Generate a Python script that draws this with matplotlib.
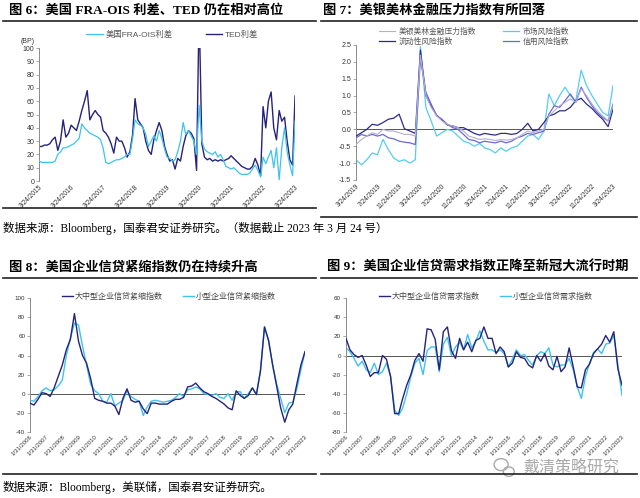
import numpy as np
import pandas as pd
import matplotlib
matplotlib.use('Agg')
import matplotlib.pyplot as plt
from matplotlib.lines import Line2D
from matplotlib.patches import Ellipse

plt.rcParams['font.family'] = ['Liberation Sans', 'Noto Sans CJK SC']

# ---- 图6: FRA-OIS / TED, monthly from 3/2015 to 3/2023 (BP)
ted = [26, 26, 27, 27, 28, 31, 33, 23, 30, 46,
       33, 36, 42, 40, 38, 45, 53, 60, 68, 46, 50, 53,
       50, 48, 38, 36, 33, 28, 21, 33, 30, 30, 25, 18,
       22, 35, 62, 46, 43, 40, 30, 23, 20, 31, 38, 44,
       38, 26, 20, 15, 16, 9, 17, 15, 26, 34, 38, 36,
       32, 8, 130, 28, 18, 16, 17, 15, 16, 15, 16, 15,
       16, 17, 19, 17, 15, 13, 11, 10, 9, 9, 11, 17,
       12, 4, 56, 40, 60, 67, 40, 31, 53, 45, 48, 30,
       16, 12, 64]
fra_ois = [15, 14, 14, 14, 14, 14, 15, 20, 22, 25,
           25, 26, 27, 28, 30, 32, 43, 40, 38, 36, 35, 34,
           33, 31, 25, 14, 13, 14, 15, 16, 16, 17, 18, 20,
           20, 32, 46, 43, 42, 40, 35, 26, 30, 34, 30, 38,
           32, 24, 18, 17, 15, 16, 22, 30, 44, 35, 38, 34,
           30, 20, 57, 30, 24, 22, 21, 20, 22, 18, 20, 16,
           11, 10, 9, 10, 8, 6, 5, 5, 5, 6, 9, 12,
           8, 3, 18, 13, 18, 23, 10, 25, 1, 25, 40, 22,
           12, 4, 45]
p6_ticks = ['3/24/2015', '3/24/2016', '3/24/2017', '3/24/2018', '3/24/2019',
            '3/24/2020', '3/24/2021', '3/24/2022', '3/24/2023']

# ---- 图7: 美银美林金融压力指数, monthly 3/2019 - 3/2023
bofa = [-0.45, -0.3, -0.2, -0.1, -0.15, 0.0, -0.05, -0.05, -0.1, -0.15,
        -0.15, -0.2, 2.2, 1.0, 0.65, 0.4, 0.25, 0.15, 0.1, 0.05,
        -0.05, -0.2, -0.25, -0.3, -0.28, -0.3, -0.33, -0.3, -0.32, -0.3,
        -0.25, -0.15, -0.05, -0.1, -0.05, 0.0, 0.4, 0.55, 0.7, 0.8,
        0.9, 0.8, 1.2, 1.0, 0.75, 0.55, 0.4, 0.25, 0.7]
market = [-0.9, -1.05, -0.9, -0.7, -0.75, -0.3, -0.6, -0.85, -0.95, -0.9,
          -1.0, -0.9, 2.45, 0.65, 0.25, -0.2, -0.1, 0.0, -0.05, -0.2,
          -0.35, -0.4, -0.5, -0.42, -0.55, -0.6, -0.7, -0.55, -0.65, -0.55,
          -0.5, -0.35, -0.2, -0.15, -0.3, -0.05, 1.05, 0.7, 1.0, 1.25,
          1.0, 0.85, 1.75, 1.3, 1.0, 0.75, 0.5, 0.4, 1.3]
liquidity = [-0.2, -0.1, 0.0, 0.15, 0.12, 0.2, 0.3, 0.33, 0.45, 0.02,
             -0.05, -0.12, 2.35, 1.0, 0.7, 0.42, 0.28, 0.13, 0.1, 0.05,
             0.05, -0.03, -0.12, -0.17, -0.12, -0.15, -0.17, -0.12, -0.12, -0.15,
             -0.12, 0.0, 0.18, -0.05, 0.0, 0.2, 0.4, 0.45, 0.55, 0.55,
             0.65, 0.85, 0.92, 0.75, 0.62, 0.45, 0.3, 0.08, 0.6]
credit = [-0.25, -0.15, -0.2, -0.15, -0.2, -0.15, -0.25, -0.28, -0.35, -0.38,
          -0.4, -0.45, 2.1, 1.1, 0.75, 0.4, 0.3, 0.15, 0.05, 0.0,
          -0.15, -0.3, -0.33, -0.4, -0.35, -0.38, -0.4, -0.35, -0.4, -0.35,
          -0.25, -0.2, -0.12, -0.15, -0.1, -0.05, 0.45, 0.7, 0.65, 0.85,
          1.05, 0.8, 1.25, 0.95, 0.7, 0.5, 0.35, 0.25, 0.75]
p7_ticks = ['3/24/2019', '7/24/2019', '11/24/2019', '3/24/2020', '7/24/2020',
            '11/24/2020', '3/24/2021', '7/24/2021', '11/24/2021', '3/24/2022',
            '7/24/2022', '11/24/2022', '3/24/2023']

# ---- 图8 / 图9: quarterly 1/2006 - 1/2023
tight_large = [-10, -12, -6, 1, 0, -3, 6, 18, 30, 46,
               57, 84, 55, 40, 32, 16, -5, -7, -8, -10,
               -10, -13, -22, -5, 5, -7, -9, -8, -16, -21,
               -10, -10, -11, -11, -11, -8, -6, -6, -4, 7,
               8, 11, 6, 2, 0, -3, -5, -8, -11, -15,
               -17, 3, -2, -5, -2, 6, -1, 24, 70, 56,
               30, 8, -15, -30, -17, -11, 10, 30, 44]
tight_small = [-7, -8, -3, 3, 6, 3, 4, 8, 14, 40,
               58, 74, 72, 50, 30, 10, 3, 0, -8, -9,
               0, -13, -10, -7, 3, -3, -6, -8, -23, -14,
               -8, -7, -8, -9, -8, -7, -4, 0, -3, 4,
               5, 7, 5, 0, -1, -2, 0, -4, -5, 0,
               -7, 2, 2, -5, 0, 6, -1, 24, 70, 55,
               30, 10, -5, -20, -10, -9, 5, 25, 44]
demand_large = [18, 6, 1, -2, 0, -10, -22, -18, -18, 0,
                -4, -22, -61, -61, -45, -31, -20, -5, 2, -6,
                28, 27, 17, -15, 25, 30, 5, -3, 18, 6,
                14, 4, 16, 18, 30, 18, 18, 2, 9, 4,
                -12, -8, 4, -2, -3, -10, -13, 0, -6, 2,
                -11, -15, -1, -17, -12, 8, -12, -33, -34, -15,
                -9, 2, 7, 12, 21, 14, 25, -14, -31]
demand_small = [8, 4, -3, -11, -6, -15, -18, -8, -20, -17,
                -8, -22, -57, -63, -55, -40, -22, -8, -3, -20,
                5, 9, 9, -17, 12, 19, 0, 9, 14, 6,
                22, 8, 15, 26, 15, 6, 6, 3, 6, 2,
                -12, -4, 6, 0, 1, -5, -10, 0, 4, 2,
                8, -10, -12, -10, -10, -3, -15, -33, -45, -22,
                -8, 3, 7, 2, 12, 13, 21, -10, -42]
q_ticks = ['1/31/2006', '1/31/2007', '1/31/2008', '1/31/2009', '1/31/2010', '1/31/2011',
           '1/31/2012', '1/31/2013', '1/31/2014', '1/31/2015', '1/31/2016', '1/31/2017',
           '1/31/2018', '1/31/2019', '1/31/2020', '1/31/2021', '1/31/2022', '1/31/2023']

NAVY = '#25237a'
CYAN = '#3ec3f0'
AXC = '#8a8a8a'
TXT = '#333333'

p6_dates = pd.date_range('2015-03-24', periods=len(ted), freq=pd.DateOffset(months=1))
p7_dates = pd.date_range('2019-03-24', periods=len(bofa), freq=pd.DateOffset(months=1))
q_dates = pd.date_range('2006-01-31', periods=len(tight_large), freq=pd.DateOffset(months=3))


def style(ax, ylim, yticks, ylabels, xticks, ysize=5, xsize=4.8, zero=False):
    for s in ['top', 'right', 'bottom']:
        ax.spines[s].set_visible(False)
    ax.spines['left'].set_color(AXC)
    ax.spines['left'].set_linewidth(0.7)
    ax.set_ylim(*ylim)
    ax.set_yticks(yticks)
    ax.set_yticklabels(ylabels, fontsize=ysize, color=TXT)
    ax.tick_params(axis='y', length=2, width=0.5, color=AXC, pad=1.5)
    ax.tick_params(axis='x', length=0, pad=2)
    pos = pd.to_datetime(xticks, format='%m/%d/%Y')
    ax.set_xticks(pos)
    ax.set_xticklabels(xticks, rotation=45, ha='right', rotation_mode='anchor',
                       fontsize=xsize, color=TXT)
    ax.set_xlim(pos[0], pos[-1])
    ax.axhline(0, color='#555555' if zero else AXC, lw=0.7, zorder=1)
    ax.patch.set_alpha(0)


fig = plt.figure(figsize=(6.4, 4.98), dpi=100)

# ---------- 图6
ax6 = fig.add_axes([0.061, 0.6365, 0.4, 0.267])
ax6.plot(p6_dates, fra_ois, color=CYAN, lw=0.9, label='美国FRA-OIS利差', zorder=3)
ax6.plot(p6_dates, ted, color=NAVY, lw=1.0, label='TED利差', zorder=2)
style(ax6, (0, 100), np.arange(0, 101, 10), [str(v) for v in range(0, 101, 10)], p6_ticks)
ax6.legend(ncol=2, loc='center', bbox_to_anchor=(0.52, 1.1), frameon=False, fontsize=6,
           handlelength=2.0, columnspacing=4.0, handletextpad=0.3, labelcolor='#555555')
ax6.text(-0.07, 1.035, '(BP)', transform=ax6.transAxes, fontsize=5, color=TXT, ha='left')

# ---------- 图7
ax7 = fig.add_axes([0.5563, 0.6386, 0.4016, 0.2711])
ax7.plot(p7_dates, bofa, color='#b3aed3', lw=0.8, label='美银美林金融压力指数', zorder=4)
ax7.plot(p7_dates, liquidity, color='#2e2b8e', lw=0.9, label='流动性风险指数', zorder=3)
ax7.plot(p7_dates, market, color='#55cdf2', lw=0.9, label='市场风险指数', zorder=2)
ax7.plot(p7_dates, credit, color='#6b68d2', lw=0.9, label='信用风险指数', zorder=3)
yt7 = np.arange(-1.5, 2.51, 0.5)
style(ax7, (-1.5, 2.5), yt7, ['%.1f' % v for v in yt7], p7_ticks, zero=True)
ax7.legend(ncol=2, loc='center', bbox_to_anchor=(0.46, 1.06), frameon=False, fontsize=5.6,
           handlelength=2.0, columnspacing=3.5, handletextpad=0.5, labelspacing=0.25,
           labelcolor='#555555')

# ---------- 图8
ax8 = fig.add_axes([0.0469, 0.1331, 0.4297, 0.2678])
ax8.plot(q_dates, tight_large, color=NAVY, lw=1.0, label='大中型企业信贷紧缩指数', zorder=3)
ax8.plot(q_dates, tight_small, color=CYAN, lw=1.0, label='小型企业信贷紧缩指数', zorder=2)
style(ax8, (-40, 100), np.arange(-40, 101, 20), [str(v) for v in range(-40, 101, 20)],
      q_ticks, ysize=4.5, xsize=4.3, zero=True)
ax8.legend(ncol=2, loc='center', bbox_to_anchor=(0.505, 1.01), frameon=False, fontsize=5.8,
           handlelength=1.3, columnspacing=2.6, handletextpad=0.2, labelcolor='#444444')

# ---------- 图9
ax9 = fig.add_axes([0.5406, 0.1331, 0.4313, 0.2678])
ax9.plot(q_dates, demand_large, color=NAVY, lw=1.0, label='大中型企业信贷需求指数', zorder=3)
ax9.plot(q_dates, demand_small, color=CYAN, lw=1.0, label='小型企业信贷需求指数', zorder=2)
style(ax9, (-80, 60), np.arange(-80, 61, 20), [str(v) for v in range(-80, 61, 20)],
      q_ticks, ysize=4.5, xsize=4.3, zero=True)
ax9.legend(ncol=2, loc='center', bbox_to_anchor=(0.507, 1.01), frameon=False, fontsize=5.8,
           handlelength=1.3, columnspacing=2.6, handletextpad=0.2, labelcolor='#444444')

# ---------- titles, rules, sources
tfont = dict(family=['Liberation Serif', 'Noto Sans CJK SC'], fontsize=9.5,
             fontweight='bold', color='black', va='center', ha='left')
fig.text(0.014, 0.979, '图 6：美国 FRA-OIS 利差、TED 仍在相对高位', **tfont)
fig.text(0.505, 0.979, '图 7：美银美林金融压力指数有所回落', **tfont)
fig.text(0.014, 0.463, '图 8：美国企业信贷紧缩指数仍在持续升高', **tfont)
fig.text(0.511, 0.463, '图 9：美国企业信贷需求指数正降至新冠大流行时期', **tfont)


def rule(x0, x1, y, lw=1.2):
    fig.add_artist(Line2D([x0, x1], [y, y], transform=fig.transFigure, color='#222222', lw=lw))


rule(0.004, 0.494, 0.9578)
rule(0.502, 0.996, 0.9578)
rule(0.004, 0.494, 0.5823)
rule(0.502, 0.996, 0.5643)
rule(0.004, 0.494, 0.4418)
rule(0.502, 0.996, 0.4418)
rule(0.004, 0.494, 0.0482)
rule(0.502, 0.996, 0.0482)

sfont = dict(family=['Liberation Serif', 'Noto Sans CJK SC'], fontsize=8.3,
             color='black', va='center', ha='left')
fig.text(0.004, 0.542, '数据来源：Bloomberg，国泰君安证券研究。（数据截止 2023 年 3 月 24 号）', **sfont)
fig.text(0.004, 0.022, '数据来源：Bloomberg，美联储，国泰君安证券研究。', **sfont)

# watermark (wechat-style bubbles + account name)
fig.add_artist(Ellipse((0.783, 0.067), 0.022, 0.024, transform=fig.transFigure,
                       fill=False, ec='#a8a8a8', lw=1.0))
fig.add_artist(Ellipse((0.795, 0.053), 0.017, 0.019, transform=fig.transFigure,
                       fill=False, ec='#a8a8a8', lw=1.0))
fig.text(0.893, 0.061, '戴清策略研究', fontsize=11.5, color='#9a9a9a', ha='center', va='center',
         family=['Noto Sans CJK SC'], alpha=0.85)

fig.savefig('out.png', dpi=100)
